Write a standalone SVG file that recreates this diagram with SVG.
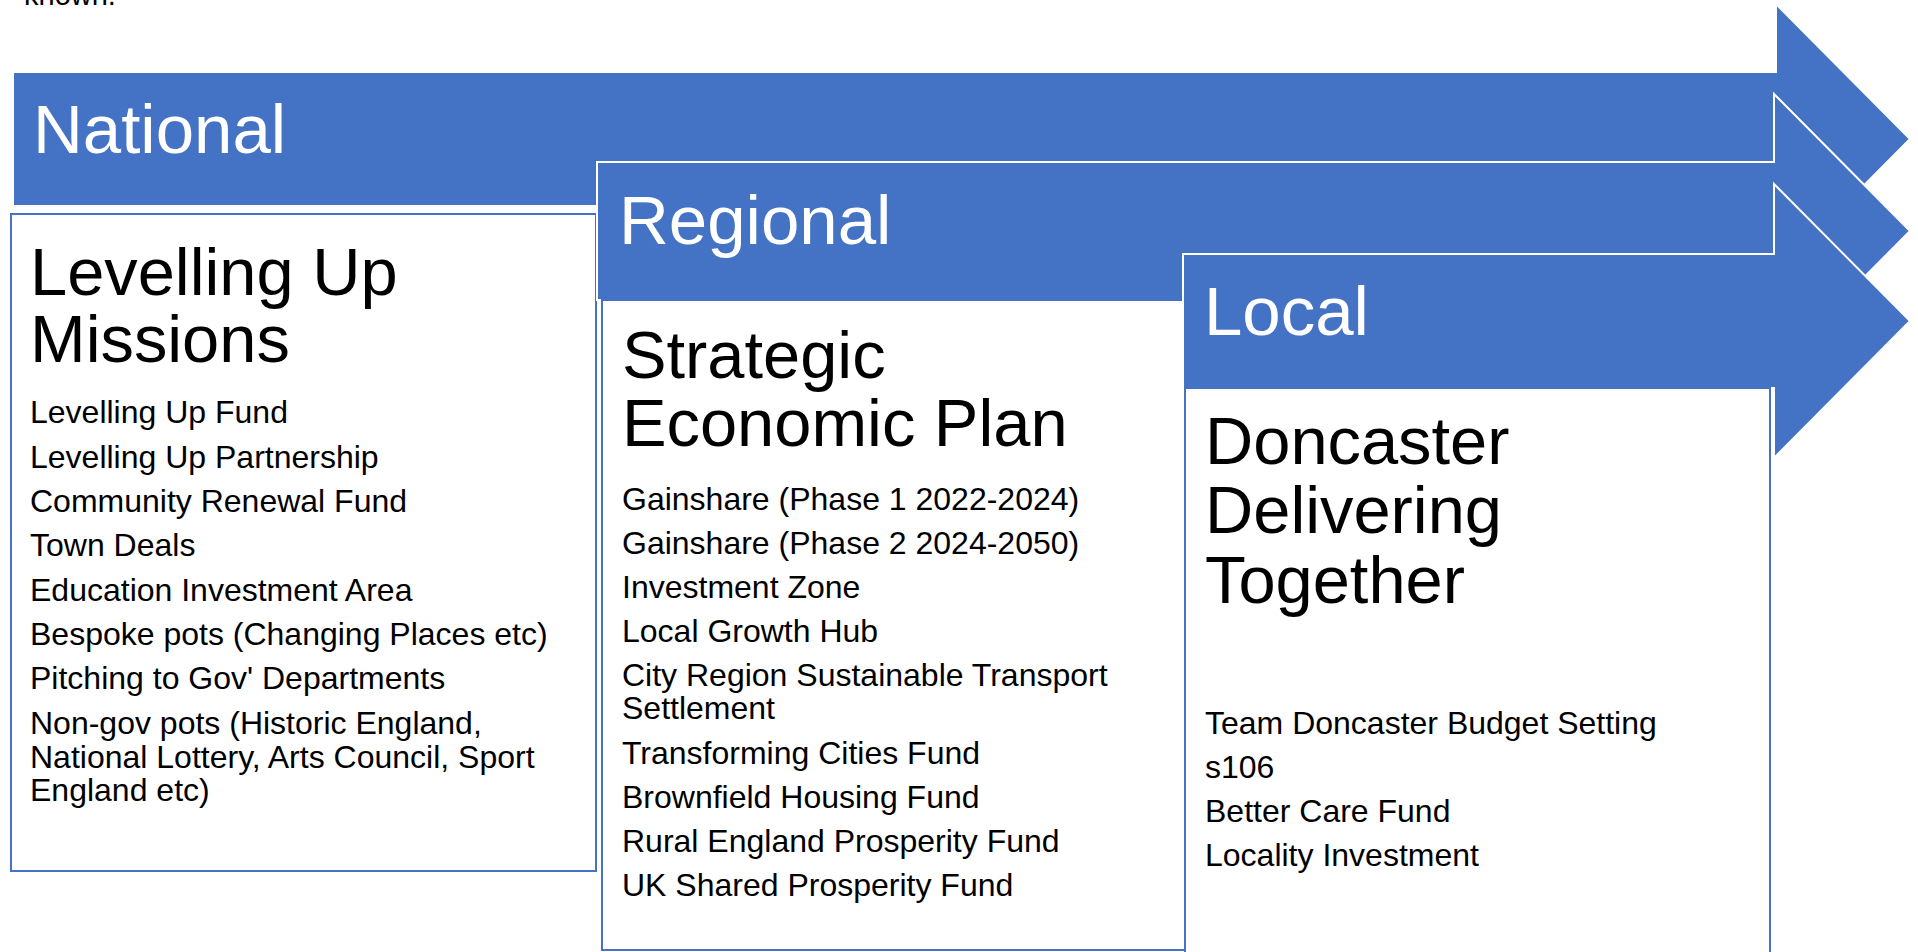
<svg xmlns="http://www.w3.org/2000/svg" width="1918" height="952" viewBox="0 0 1918 952">
<style>
.arrow{fill:#4472C4;stroke:#FFFFFF;stroke-width:2}
.box{fill:#FFFFFF;stroke:#4472C4;stroke-width:2}
.lbl{font-family:"Liberation Sans",Arial,sans-serif;font-size:69px;fill:#FFFFFF}
.hd{font-family:"Liberation Sans",Arial,sans-serif;font-size:66.8px;fill:#000000}
.it{font-family:"Liberation Sans",Arial,sans-serif;font-size:32px;fill:#000000}
.top{font-family:"Liberation Sans",Arial,sans-serif;font-size:29px;fill:#000000}
</style>
<rect width="1918" height="952" fill="#FFFFFF"/>
<text class="top" x="24" y="5">known.</text>

<g id="national-arrow">
<path class="arrow" stroke-width="1" d="M13,72 H1776 V4 L1910,139 L1776,274 V206 H13 Z"/>
<text class="lbl" x="33" y="153">National</text>
</g>
<g id="national-box">
<rect class="box" x="11" y="214" width="585" height="657"/>
<text class="hd" x="30" y="295">Levelling Up</text>
<text class="hd" x="30" y="362">Missions</text>
<text class="it" x="30" y="423">Levelling Up Fund</text>
<text class="it" x="30" y="468">Levelling Up Partnership</text>
<text class="it" x="30" y="512">Community Renewal Fund</text>
<text class="it" x="30" y="556">Town Deals</text>
<text class="it" x="30" y="601">Education Investment Area</text>
<text class="it" x="30" y="645">Bespoke pots (Changing Places etc)</text>
<text class="it" x="30" y="689">Pitching to Gov' Departments</text>
<text class="it" x="30" y="734">Non-gov pots (Historic England,</text>
<text class="it" x="30" y="768">National Lottery, Arts Council, Sport</text>
<text class="it" x="30" y="801">England etc)</text>
</g>

<g id="regional-arrow">
<path class="arrow" d="M597,162 H1774 V94 L1910,231 L1774,368 V300 H597 Z"/>
<text class="lbl" x="619" y="244">Regional</text>
</g>
<g id="regional-box">
<rect class="box" x="602" y="300" width="583" height="650"/>
<text class="hd" x="622" y="378">Strategic</text>
<text class="hd" x="622" y="446">Economic Plan</text>
<text class="it" x="622" y="510">Gainshare (Phase 1 2022-2024)</text>
<text class="it" x="622" y="554">Gainshare (Phase 2 2024-2050)</text>
<text class="it" x="622" y="598">Investment Zone</text>
<text class="it" x="622" y="642">Local Growth Hub</text>
<text class="it" x="622" y="686">City Region Sustainable Transport</text>
<text class="it" x="622" y="719">Settlement</text>
<text class="it" x="622" y="764">Transforming Cities Fund</text>
<text class="it" x="622" y="808">Brownfield Housing Fund</text>
<text class="it" x="622" y="852">Rural England Prosperity Fund</text>
<text class="it" x="622" y="896">UK Shared Prosperity Fund</text>
</g>

<g id="local-arrow">
<path class="arrow" d="M1183,254 H1774 V184 L1910,321 L1774,458 V388 H1183 Z"/>
<text class="lbl" x="1204" y="335">Local</text>
</g>
<g id="local-box">
<rect class="box" x="1185" y="388" width="585" height="620"/>
<text class="hd" x="1205" y="464">Doncaster</text>
<text class="hd" x="1205" y="533">Delivering</text>
<text class="hd" x="1205" y="603">Together</text>
<text class="it" x="1205" y="734">Team Doncaster Budget Setting</text>
<text class="it" x="1205" y="778">s106</text>
<text class="it" x="1205" y="822">Better Care Fund</text>
<text class="it" x="1205" y="866">Locality Investment</text>
</g>

<g id="connectors"/>
</svg>
